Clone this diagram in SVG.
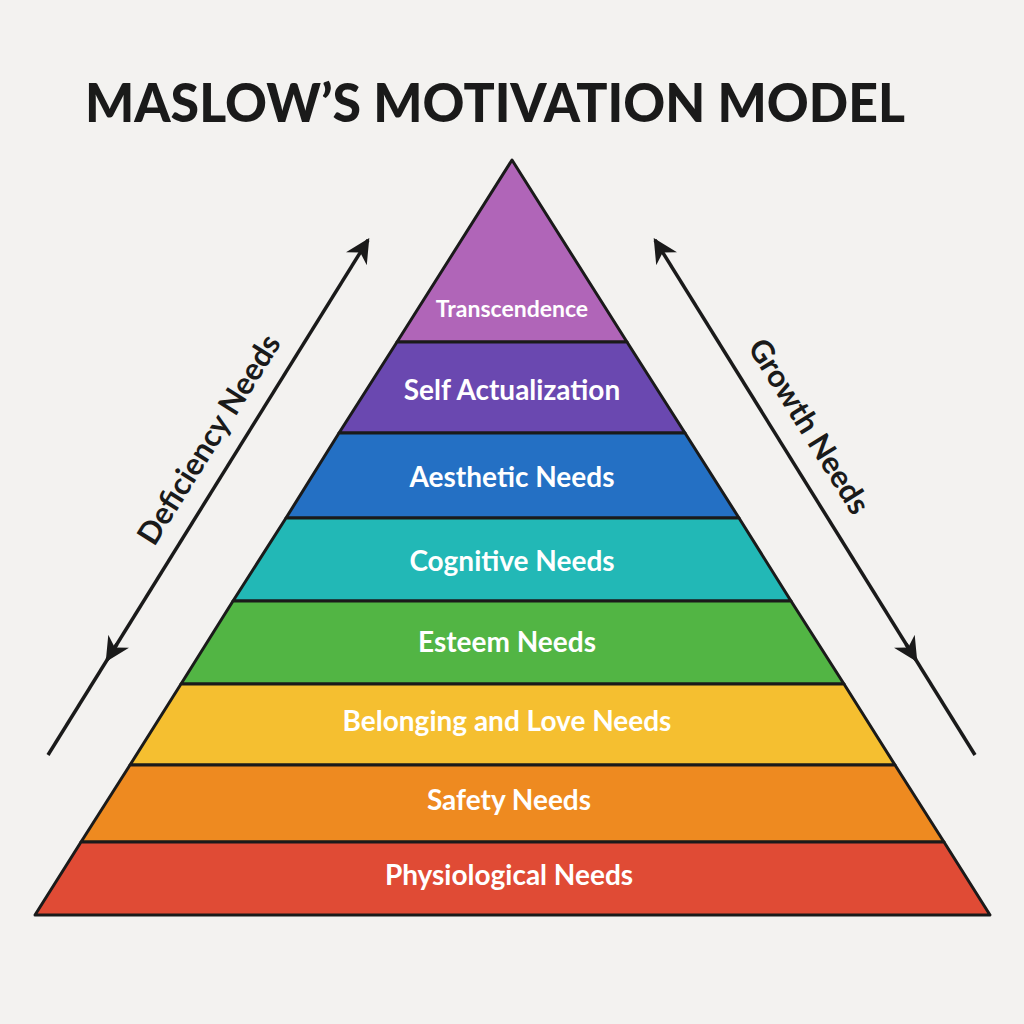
<svg xmlns="http://www.w3.org/2000/svg" width="1024" height="1024" viewBox="0 0 1024 1024">
<style>
.band{stroke:#1a1a1a;stroke-width:3;stroke-linejoin:round}
.lbl{font-family:Lato,"Open Sans",sans-serif;font-weight:700;font-size:28px;fill:#fff;text-anchor:middle}
.side{font-family:Lato,"Open Sans",sans-serif;font-weight:700;font-size:31px;fill:#1a1a1a;text-anchor:middle}
.ln{stroke:#1a1a1a;stroke-width:3.5;fill:none}
</style>
<defs>
<marker id="ah" viewBox="0 0 10 10" refX="9" refY="5" markerWidth="7" markerHeight="7" orient="auto-start-reverse" markerUnits="strokeWidth"><path d="M0,0 L10,5 L0,10 L3,5 Z" fill="#1a1a1a"/></marker>
</defs>
<rect width="1024" height="1024" fill="#f3f2f0"/>
<text x="495" y="122" font-family="Lato,sans-serif" font-weight="900" font-size="54" fill="#1a1a1a" text-anchor="middle" textLength="820" lengthAdjust="spacingAndGlyphs">MASLOW’S MOTIVATION MODEL</text>
<g id="transcendence"><polygon class="band" points="512,160 627,342 397,342" fill="#b065b8"/><text class="lbl" x="512" y="317" style="font-size:23px">Transcendence</text></g>
<g id="self-actualization"><polygon class="band" points="397,342 627,342 685,433 339,433" fill="#6a48b0"/><text class="lbl" x="512" y="400">Self Actualization</text></g>
<g id="aesthetic"><polygon class="band" points="339,433 685,433 739,518 286,518" fill="#2470c4"/><text class="lbl" x="512" y="487">Aesthetic Needs</text></g>
<g id="cognitive"><polygon class="band" points="286,518 739,518 791,601 233,601" fill="#22b8b6"/><text class="lbl" x="512" y="571">Cognitive Needs</text></g>
<g id="esteem"><polygon class="band" points="233,601 791,601 844,684 181,684" fill="#52b544"/><text class="lbl" x="507" y="652">Esteem Needs</text></g>
<g id="belonging"><polygon class="band" points="181,684 844,684 895,765 130,765" fill="#f5bf30"/><text class="lbl" x="507" y="731">Belonging and Love Needs</text></g>
<g id="safety"><polygon class="band" points="130,765 895,765 944,842 81,842" fill="#ee8a20"/><text class="lbl" x="509" y="810">Safety Needs</text></g>
<g id="physiological"><polygon class="band" points="81,842 944,842 990,915 35,915" fill="#e04b35"/><text class="lbl" x="509" y="885">Physiological Needs</text></g>
<g id="connectors">
<line class="ln" x1="48" y1="755" x2="368" y2="240" marker-end="url(#ah)"/>
<line class="ln" x1="117" y1="644" x2="107" y2="660" marker-end="url(#ah)"/>
<line class="ln" x1="975" y1="755" x2="655" y2="240" marker-end="url(#ah)"/>
<line class="ln" x1="906" y1="644" x2="916" y2="660" marker-end="url(#ah)"/>
</g>
<g id="deficiency"><text class="side" transform="translate(218,445) rotate(-58)">Deficiency Needs</text></g>
<g id="growth"><text class="side" transform="translate(800,432) rotate(58)">Growth Needs</text></g>
</svg>
